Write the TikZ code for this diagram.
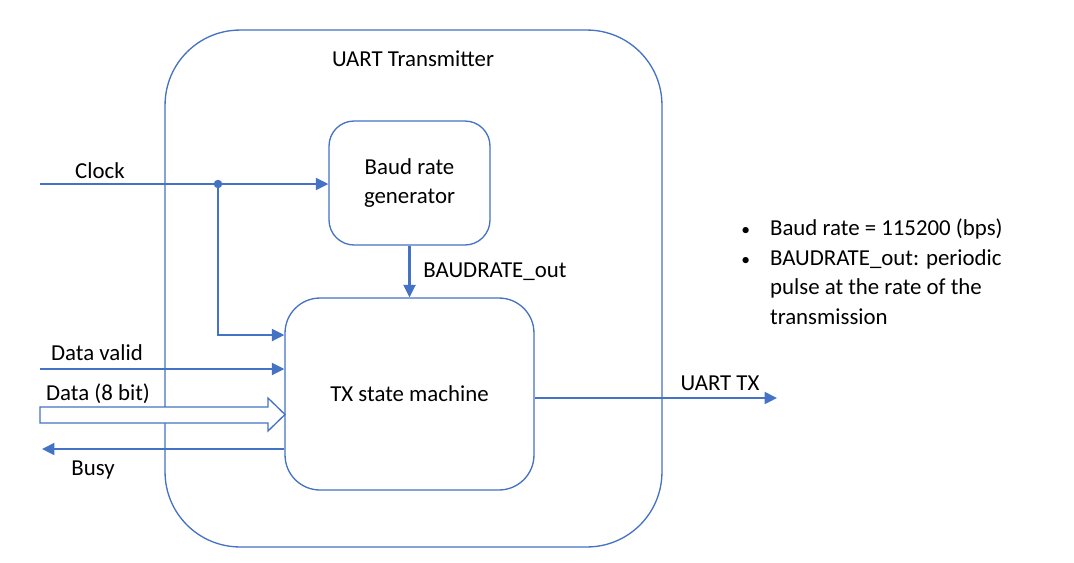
\documentclass[tikz,border=0pt]{standalone}
\usepackage{fontspec}
\setmainfont{Carlito}
\usepackage{xcolor}
\usepackage{tikz}
\usetikzlibrary{arrows.meta}
\definecolor{officeblue}{HTML}{4472C4}

\begin{document}
\begin{tikzpicture}[x=0.02cm, y=-0.02cm,
    font=\fontsize{13}{16}\selectfont,
    blk/.style={draw=officeblue, line width=0.75pt, rectangle, align=center},
    wire/.style={draw=officeblue, line width=1.25pt, -{Triangle[length=0.25cm,width=0.24cm]}},
    lbl/.style={inner sep=0pt}]
    \useasboundingbox (0, 0) rectangle (1074, 562);
    \node[blk, minimum width=9.94cm, minimum height=10.34cm, rounded corners=1.5cm] (uart) at (413.5, 288.5) {};
    \node[lbl] (title) at (413, 59) {UART Transmitter};
    \node[blk, minimum width=3.22cm, minimum height=2.48cm, rounded corners=0.5cm] (baud) at (409.5, 183) {Baud rate\\generator};
    \node[blk, minimum width=4.98cm, minimum height=3.84cm, rounded corners=0.7cm] (tx) at (409.5, 394) {TX state machine};
    \coordinate (clkin) at (40, 184);
    \coordinate (split) at (218, 184);
    \coordinate (dvin) at (40, 369);
    \coordinate (busyout) at (42, 449);
    \coordinate (txout) at (777, 398);
    \draw[wire] (clkin) -- (clkin -| baud.west);
    \fill[officeblue] (split) circle[radius=0.085cm];
    \draw[wire] (split) |- ([yshift=1.18cm]tx.west);
    \draw[wire] (baud.south) -- (tx.north) node[midway, right=4pt] {BAUDRATE\_out};
    \draw[wire] (dvin) -- (dvin -| tx.west);
    \draw[draw=officeblue, line width=0.75pt, fill=white]
      (40, 407) -- (268, 407) -- (268, 398) -- (285, 414.5) -- (268, 431) -- (268, 423) -- (40, 423) -- cycle;
    \draw[wire] (busyout -| tx.west) -- (busyout);
    \draw[wire] (txout -| tx.east) -- (txout);
    \node[lbl] (clk) at (100, 171) {Clock};
    \node[lbl] (dv) at (97, 353) {Data valid};
    \node[lbl] (data) at (98, 394) {Data (8 bit)};
    \node[lbl] (busy) at (93, 470) {Busy};
    \node[lbl] (txlbl) at (720, 383) {UART TX};
    \node[lbl, anchor=west, font=\fontsize{13}{17}\selectfont] (notes) at (741, 274) {%
      \begin{tabular}{@{}l@{\hspace{0.4cm}}l@{}}
        {\fontsize{10}{10}\selectfont\textbullet} & Baud rate = 115200 (bps)\\
        {\fontsize{10}{10}\selectfont\textbullet} & BAUDRATE\_out: periodic\\
                    & pulse at the rate of the\\
                    & transmission
      \end{tabular}};
  \end{tikzpicture}
\end{document}
